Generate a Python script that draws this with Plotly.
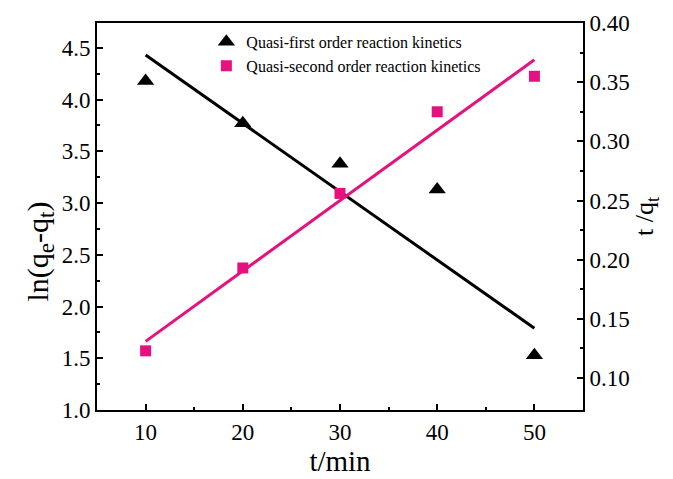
import plotly.graph_objects as go

# Contact time (min)
t_min = [10, 20, 30, 40, 50]
# Pseudo-first-order: ln(qe - qt)
ln_qe_qt = [4.18, 3.77, 3.38, 3.13, 1.53]
# Pseudo-second-order: t/qt
t_over_qt = [0.123, 0.193, 0.256, 0.325, 0.355]

# Linear-fit end points
fit_t = [10, 50]
fit_first = [4.43, 1.79]
fit_second = [0.131, 0.369]

PINK = "#E6117F"
FONT = "Liberation Serif"
TICK_SIZE = 23
TITLE_SIZE = 29

fig = go.Figure()

fig.add_trace(go.Scatter(
    x=fit_t, y=fit_first, mode="lines", line=dict(color="black", width=3),
    showlegend=False, yaxis="y"))
fig.add_trace(go.Scatter(
    x=fit_t, y=fit_second, mode="lines", line=dict(color=PINK, width=3),
    showlegend=False, yaxis="y2"))
fig.add_trace(go.Scatter(
    x=t_min, y=ln_qe_qt, mode="markers", name="Quasi-first order reaction kinetics",
    marker=dict(symbol="triangle-up", size=15, color="black"), yaxis="y"))
fig.add_trace(go.Scatter(
    x=t_min, y=t_over_qt, mode="markers", name="Quasi-second order reaction kinetics",
    marker=dict(symbol="square", size=11, color=PINK), yaxis="y2"))

axis_common = dict(
    showgrid=False, zeroline=False, showline=True, linecolor="black", linewidth=2,
    ticks="inside", ticklen=6, tickwidth=2, tickcolor="black", automargin=False,
    tickfont=dict(family=FONT, size=TICK_SIZE, color="black"),
)
minor_common = dict(ticks="inside", ticklen=3, tickwidth=2, tickcolor="black")

fig.update_layout(
    width=673, height=479,
    margin=dict(l=97, r=90, t=23, b=69),
    plot_bgcolor="white", paper_bgcolor="white",
    font=dict(family=FONT, color="black"),
    xaxis=dict(
        range=[5, 55], tickvals=[10, 20, 30, 40, 50], mirror=True,
        title=dict(text="t/min", font=dict(family=FONT, size=TITLE_SIZE), standoff=4),
        minor=dict(tickvals=[15, 25, 35, 45], **minor_common),
        **axis_common),
    yaxis=dict(
        range=[1.0, 4.74], tickvals=[1.0, 1.5, 2.0, 2.5, 3.0, 3.5, 4.0, 4.5],
        tickformat=".1f",
        minor=dict(tickvals=[1.25, 1.75, 2.25, 2.75, 3.25, 3.75, 4.25], **minor_common),
        **axis_common),
    yaxis2=dict(
        overlaying="y", side="right",
        range=[0.073, 0.40],
        tickvals=[0.10, 0.15, 0.20, 0.25, 0.30, 0.35, 0.40], tickformat=".2f",
        title=dict(text="t /q<sub>t</sub>", font=dict(family=FONT, size=26), standoff=6),
        minor=dict(tickvals=[0.125, 0.175, 0.225, 0.275, 0.325, 0.375], **minor_common),
        **axis_common),
    legend=dict(
        x=0.225, y=0.995, xanchor="left", yanchor="top",
        bgcolor="rgba(255,255,255,0)", borderwidth=0,
        font=dict(family=FONT, size=16, color="black"),
        itemsizing="trace", tracegroupgap=0),
)

# Left axis title, placed slightly below the axis midpoint
fig.add_annotation(
    text="ln(q<sub><span style='font-size:23px'>e</span></sub>-"
         "q<sub><span style='font-size:23px'>t</span></sub>)",
    textangle=-90,
    xref="paper", yref="paper", x=-0.117, y=0.41,
    xanchor="center", yanchor="middle", showarrow=False,
    font=dict(family=FONT, size=30, color="black"),
)

fig.write_html("out.html")
